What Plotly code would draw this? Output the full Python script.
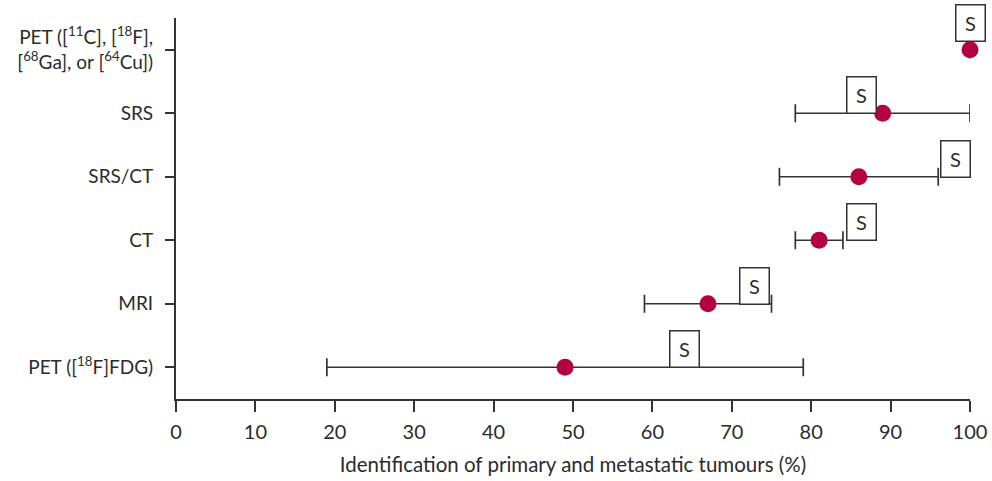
import plotly.graph_objects as go

categories = [
    "PET ([<sup>18</sup>F]FDG)",
    "MRI",
    "CT",
    "SRS/CT",
    "SRS",
    "PET ([<sup>11</sup>C], [<sup>18</sup>F],<br>[<sup>68</sup>Ga], or [<sup>64</sup>Cu])",
]
point_values = [49, 67, 81, 86, 89, 100]
lower_values = [19, 59, 78, 76, 78, 100]
upper_values = [79, 75, 84, 96, 100, 100]
s_marker_x = [64.1, 72.9, 86.3, 98.2, 86.3, 100]
x_ticks = [0, 10, 20, 30, 40, 50, 60, 70, 80, 90, 100]

FONT = "Lato"
TXT = "#2b2b2b"
LINE = "#333333"
DOT = "#B3033C"

idx = list(range(len(categories)))
fig = go.Figure()
fig.add_trace(go.Scatter(
    x=point_values, y=idx, mode="markers",
    marker=dict(color=DOT, size=17, line=dict(width=0)),
    error_x=dict(type="data", symmetric=False,
                 array=[u - p for u, p in zip(upper_values, point_values)],
                 arrayminus=[p - l for p, l in zip(point_values, lower_values)],
                 color=LINE, thickness=1.7, width=9),
    cliponaxis=False, showlegend=False,
))

for i, sx in enumerate(s_marker_x):
    has_bar = upper_values[i] != lower_values[i]
    fig.add_annotation(
        x=sx, y=i, xref="x", yref="y", text="S", showarrow=False,
        xanchor="center", yanchor="bottom",
        yshift=(-1 if has_bar else 8),
        font=dict(family=FONT, size=20, color=TXT),
        bordercolor=LINE, borderwidth=1.5, borderpad=0,
        bgcolor="white", width=28, height=35,
    )

fig.update_layout(
    width=992, height=481,
    margin=dict(l=176, r=22, t=18, b=82),
    paper_bgcolor="white", plot_bgcolor="white",
    font=dict(family=FONT, size=19, color=TXT),
    xaxis=dict(range=[0, 100], tickvals=x_ticks, ticks="outside", ticklen=11,
               tickwidth=1.6, tickcolor=LINE, showline=True, linecolor=LINE,
               linewidth=2, showgrid=False, zeroline=False, automargin=False,
               ticklabelstandoff=3,
               tickfont=dict(family=FONT, size=20, color=TXT),
               title=dict(text="Identification of primary and metastatic tumours (%)",
                          font=dict(family=FONT, size=20.5, color=TXT), standoff=16)),
    yaxis=dict(range=[-0.5, 5.5], tickvals=idx, ticktext=categories,
               ticks="outside", ticklen=9, tickwidth=1.6, tickcolor=LINE,
               showline=True, linecolor=LINE, linewidth=2, showgrid=False,
               zeroline=False, automargin=False, ticklabelstandoff=8,
               tickfont=dict(family=FONT, size=19, color=TXT)),
)

fig.write_html("out.html", config={"displayModeBar": False},
               post_script="document.body.style.margin='0';")
